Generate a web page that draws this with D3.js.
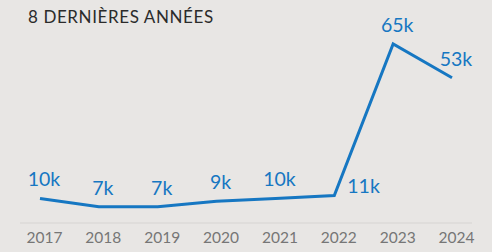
<!DOCTYPE html>
<html>
<head>
<meta charset="utf-8">
<script src="https://cdn.jsdelivr.net/npm/d3@7"></script>
<style>
  body { margin: 0; background: #e8e6e4; }
  svg { display: block; font-family: Lato, "Open Sans", sans-serif; }
</style>
</head>
<body>
<div id="chart"></div>
<script>
const years = ["2017", "2018", "2019", "2020", "2021", "2022", "2023", "2024"]
const values = [10, 7, 7, 9, 10, 11, 65, 53]
const labels = ["10k", "7k", "7k", "9k", "10k", "11k", "65k", "53k"]
const title = "8 DERNIÈRES ANNÉES"

const width = 492, height = 252

const svg = d3.select("#chart").append("svg")
    .attr("width", width)
    .attr("height", height)

svg.append("rect")
    .attr("width", width)
    .attr("height", height)
    .attr("fill", "#e8e6e4")

const x = d3.scalePoint()
    .domain(years)
    .range([40, 452])

const y = d3.scaleLinear()
    .domain([0, 65])
    .range([226.5, 44])

svg.append("text")
    .attr("x", 28)
    .attr("y", 23)
    .attr("fill", "#2b2b2b")
    .style("font-size", "17px")
    .style("letter-spacing", "0.6px")
    .text(title)

// baseline
svg.append("line")
    .attr("x1", 20).attr("x2", 472)
    .attr("y1", 223).attr("y2", 223)
    .attr("stroke", "#dcdad8")
    .attr("stroke-width", 1.5)

const line = d3.line()
    .x((d, i) => x(years[i]))
    .y(d => y(d))

svg.append("path")
    .datum(values)
    .attr("d", line)
    .attr("fill", "none")
    .attr("stroke", "#1677c2")
    .attr("stroke-width", 3)
    .attr("stroke-linejoin", "miter")

// year labels
const xAxis = d3.axisBottom(x).tickSize(0).tickPadding(0)
const gx = svg.append("g")
    .attr("transform", "translate(4,232)")
    .call(xAxis)
gx.select(".domain").remove()
gx.selectAll("text")
    .attr("fill", "#767676")
    .attr("dy", "0.71em")
    .style("font-family", "Lato, sans-serif")
    .style("font-size", "15.5px")

// value labels
svg.selectAll(".val")
    .data(values)
    .join("text")
    .attr("class", "val")
    .attr("x", (d, i) => i == 5 ? x(years[i]) + 13 : x(years[i]) + 4)
    .attr("y", (d, i) => i == 5 ? y(d) - 3 : y(d) - 12)
    .attr("text-anchor", (d, i) => i == 5 ? "start" : "middle")
    .attr("fill", "#1677c2")
    .style("font-size", "19.5px")
    .text((d, i) => labels[i])
</script>
</body>
</html>
